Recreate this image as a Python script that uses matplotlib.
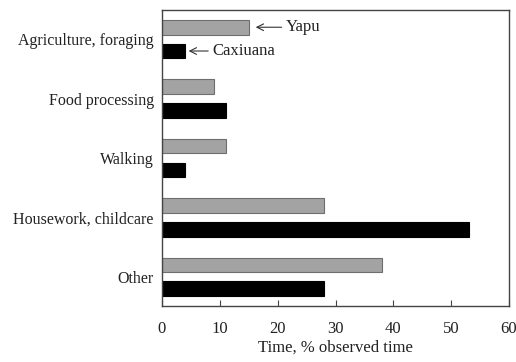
import matplotlib
matplotlib.use("Agg")
import matplotlib.pyplot as plt
import numpy as np

categories = ["Agriculture, foraging", "Food processing", "Walking",
              "Housework, childcare", "Other"]
yapu = [15, 9, 11, 28, 38]
caxiuana = [4, 11, 4, 53, 28]
x_ticks = [0, 10, 20, 30, 40, 50, 60]

plt.rcParams["font.family"] = ["Liberation Serif", "DejaVu Serif"]
fs = 12

fig = plt.figure(figsize=(5.16, 3.62), dpi=100)
ax = fig.add_axes([162 / 516, 1 - 306 / 362, (509 - 162) / 516, (306 - 10) / 362])

pos = np.arange(len(categories))
h = 0.245
off = 0.2
ax.barh(pos - off, yapu, height=h, color="#a3a3a3", edgecolor="#6e6e6e", linewidth=0.8)
ax.barh(pos + off, caxiuana, height=h, color="black", edgecolor="black", linewidth=0.8)

ax.set_ylim(len(categories) - 0.51, -0.49)
ax.set_xlim(0, 60)
ax.set_yticks(pos)
ax.set_yticklabels(categories, fontsize=11.5, color="#222222")
ax.tick_params(axis="y", length=0, pad=6)
ax.set_xticks(x_ticks)
ax.set_xticklabels([str(t) for t in x_ticks], fontsize=fs, color="#222222")
ax.tick_params(axis="x", direction="in", length=4, pad=11, color="#444444")
ax.set_xlabel("Time, % observed time", fontsize=fs, color="#222222", labelpad=2)
for s in ax.spines.values():
    s.set_color("#444444")
    s.set_linewidth(1.0)

arrow = dict(arrowstyle="->", color="#333333", lw=0.8, shrinkA=1, shrinkB=0)
ax.annotate("Yapu", xy=(yapu[0] + 1.2, 0 - off), xytext=(yapu[0] + 6.4, 0 - off),
            va="center", ha="left", fontsize=fs, color="#222222", arrowprops=arrow)
ax.annotate("Caxiuana", xy=(caxiuana[0] + 0.6, 0 + off), xytext=(caxiuana[0] + 4.7, 0 + off),
            va="center", ha="left", fontsize=fs, color="#222222", arrowprops=arrow)

fig.savefig("out.png", dpi=100)
